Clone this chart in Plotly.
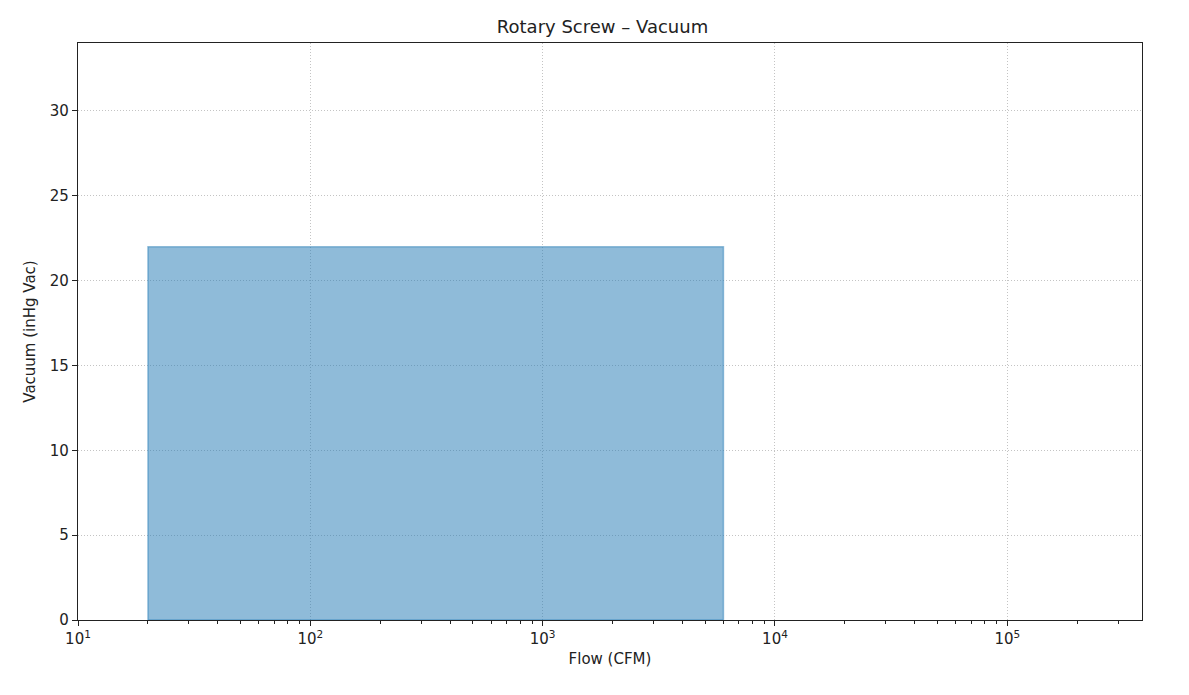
import math
import plotly.graph_objects as go

# Operating envelope for the rotary screw vacuum pump
flow_min = 20       # CFM
flow_max = 6000     # CFM
vac_max = 22        # inHg Vac

x_range = [10, 3.8e5]
y_range = [0, 34]

major_x = [10, 100, 1000, 10000, 100000]
major_x_text = ["10<sup>1</sup>", "10<sup>2</sup>", "10<sup>3</sup>",
                "10<sup>4</sup>", "10<sup>5</sup>"]
minor_x = [m * 10 ** e for e in range(1, 6) for m in range(2, 10)]
y_ticks = [0, 5, 10, 15, 20, 25, 30]

fig = go.Figure()
fig.add_trace(go.Scatter(
    x=[flow_min, flow_min, flow_max, flow_max, flow_min],
    y=[0, vac_max, vac_max, 0, 0],
    fill="toself",
    fillcolor="rgba(31,119,180,0.5)",
    line=dict(color="rgba(31,119,180,0.45)", width=1.5),
    mode="lines",
    hoverinfo="skip",
    showlegend=False,
))

axis_common = dict(
    showline=True, linecolor="#222", linewidth=1.2, mirror=True,
    ticks="outside", ticklen=5, tickcolor="#222",
    showgrid=True, gridcolor="#c4c4c4", griddash="1px,2px", gridwidth=1,
    zeroline=False,
    tickfont=dict(size=15, color="#222"),
)

fig.update_xaxes(
    type="log",
    range=[math.log10(x_range[0]), math.log10(x_range[1])],
    tickmode="array", tickvals=major_x, ticktext=major_x_text,
    minor=dict(tickmode="array", tickvals=minor_x, ticks="outside",
               ticklen=3, tickcolor="#222", showgrid=False),
    title=dict(text="Flow (CFM)", font=dict(size=15, color="#222"), standoff=6),
    **axis_common,
)
fig.update_yaxes(
    range=y_range,
    tickmode="array", tickvals=y_ticks,
    title=dict(text="Vacuum (inHg Vac)", font=dict(size=15, color="#222"), standoff=10),
    **axis_common,
)

fig.update_layout(
    width=1189, height=695,
    margin=dict(l=70, r=55, t=35, b=83),
    plot_bgcolor="white", paper_bgcolor="white",
    font=dict(family="DejaVu Sans", color="#222"),
    title=dict(text="Rotary Screw – Vacuum", x=0.5, xanchor="center",
               y=0.973, yanchor="middle", font=dict(size=18, color="#222")),
)

fig.write_html("out.html")
